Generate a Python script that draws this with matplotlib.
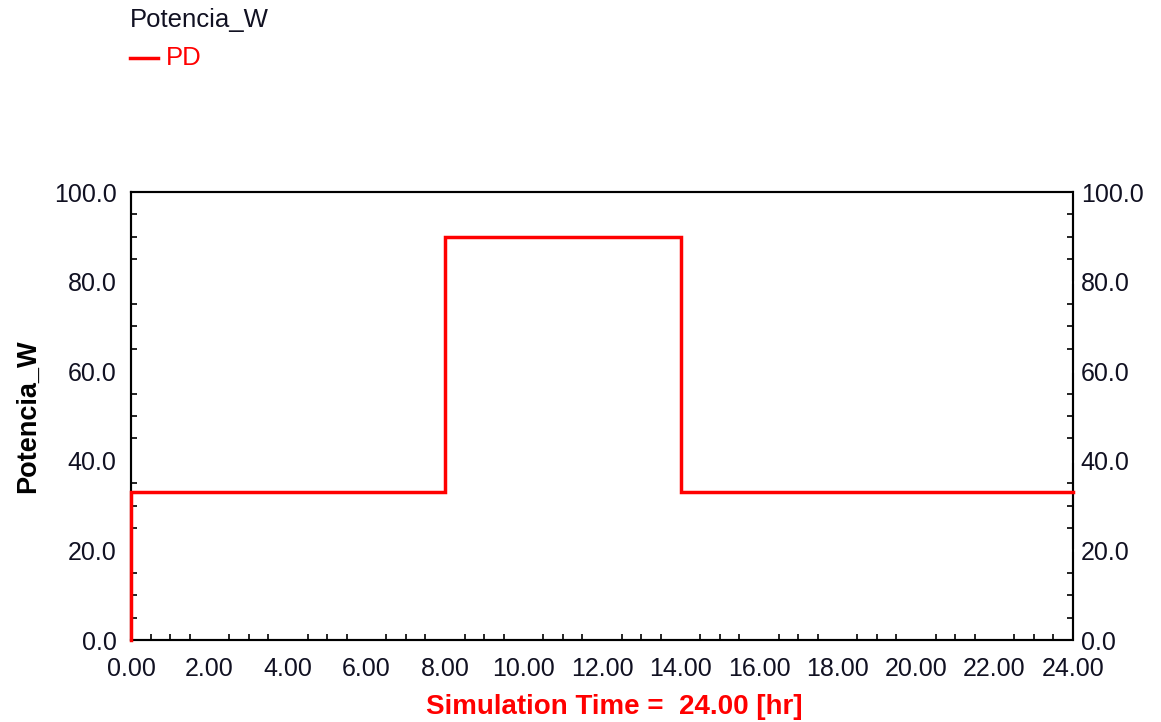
import matplotlib
matplotlib.use('Agg')
import matplotlib.pyplot as plt
from matplotlib.ticker import MultipleLocator, FormatStrFormatter

# data: PD power profile (step)
time_hr = [0, 0, 8, 8, 14, 14, 24]
pd_w = [0, 33, 33, 90, 90, 33, 33]

plt.rcParams['font.family'] = ['Liberation Sans', 'DejaVu Sans']

fig = plt.figure(figsize=(11.61, 7.22), dpi=100)
ax = fig.add_axes([131/1161, 82/722, 942/1161, 448/722])

ax.set_xlim(0, 24); ax.set_ylim(0, 100)
ax.xaxis.set_major_locator(MultipleLocator(2)); ax.xaxis.set_minor_locator(MultipleLocator(0.5))
ax.yaxis.set_major_locator(MultipleLocator(20)); ax.yaxis.set_minor_locator(MultipleLocator(5))
ax.xaxis.set_major_formatter(FormatStrFormatter("%.2f"))
ax.yaxis.set_major_formatter(FormatStrFormatter("%.1f"))

for s in ax.spines.values():
    s.set_linewidth(1.5); s.set_color("black")

# major ticks shown as small white gaps in the frame, minor ticks inward
ax.tick_params(which="major", direction="inout", length=5, width=2, color="white",
               labelsize=18, labelcolor="#111122", top=True)
ax.yaxis.set_tick_params(which="major", pad=8)
ax.xaxis.set_tick_params(which="major", pad=10)
ax.tick_params(which="minor", direction="in", length=4, width=1.2, color="black")
ax.xaxis.set_tick_params(which="minor", top=False)

# right-hand axis, same scale
ax2 = ax.twinx()
ax2.set_ylim(ax.get_ylim())
ax2.yaxis.set_major_locator(MultipleLocator(20)); ax2.yaxis.set_minor_locator(MultipleLocator(5))
ax2.yaxis.set_major_formatter(FormatStrFormatter("%.1f"))
ax2.tick_params(which="major", direction="inout", length=5, width=2, color="white",
                labelsize=18, labelcolor="#111122", pad=3)
ax2.tick_params(which="minor", direction="in", length=4, width=1.2, color="black")
for s in ax2.spines.values():
    s.set_linewidth(1.5); s.set_color("black")

ax2.plot(time_hr, pd_w, color="#ff0000", linewidth=2.5, solid_joinstyle="miter", clip_on=False, zorder=5)

ax.set_ylabel("Potencia_W", fontsize=19.5, fontweight="bold", labelpad=9)
ax.set_xlabel("Simulation Time =  24.00 [hr]", fontsize=20, fontweight="bold", color="#ff0000")
ax.xaxis.set_label_coords(0.513, -0.15, transform=ax.transAxes)
ax.xaxis.label.set_va("center")

# legend-like header
fig.text(130/1161, 1 - 20/722, "Potencia_W", fontsize=18.5, color="#111122", va="center")
fig.lines.append(plt.Line2D([130/1161, 158/1161], [1 - 58/722, 1 - 58/722],
                            color="#ff0000", linewidth=2.5, transform=fig.transFigure))
fig.text(166/1161, 1 - 58/722, "PD", fontsize=18.5, color="#ff0000", va="center")

plt.savefig("out.png", dpi=100)
plt.close()
